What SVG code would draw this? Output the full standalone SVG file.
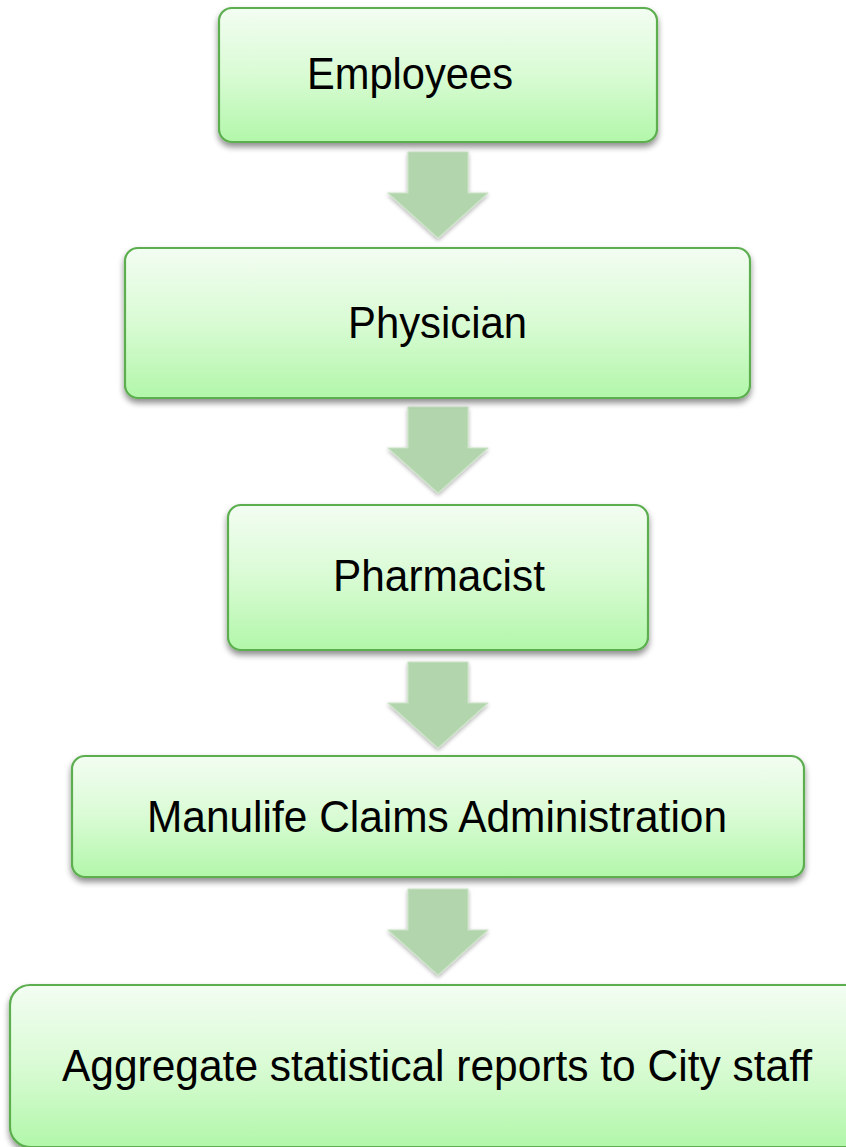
<svg xmlns="http://www.w3.org/2000/svg" width="846" height="1147" viewBox="0 0 846 1147">
  <defs>
    <linearGradient id="boxGrad" x1="0" y1="0" x2="0" y2="1">
      <stop offset="0" stop-color="#f3fdf2"/>
      <stop offset="0.5" stop-color="#d9fbd4"/>
      <stop offset="1" stop-color="#b2f7aa"/>
    </linearGradient>
    <filter id="shadow" x="-10%" y="-10%" width="120%" height="130%">
      <feGaussianBlur in="SourceAlpha" stdDeviation="3"/>
      <feOffset dx="0" dy="4" result="b"/>
      <feComponentTransfer><feFuncA type="linear" slope="0.45"/></feComponentTransfer>
      <feMerge><feMergeNode/><feMergeNode in="SourceGraphic"/></feMerge>
    </filter>
    <filter id="arrowShadow" x="-20%" y="-20%" width="140%" height="140%">
      <feGaussianBlur in="SourceAlpha" stdDeviation="2"/>
      <feOffset dx="0" dy="2"/>
      <feComponentTransfer><feFuncA type="linear" slope="0.3"/></feComponentTransfer>
      <feMerge><feMergeNode/><feMergeNode in="SourceGraphic"/></feMerge>
    </filter>
    <path id="arrowShape" d="M -30 0 L 30 0 L 30 41 L 50 41 L 0 86 L -50 41 L -30 41 Z"/>
  </defs>
  <style>
    .box { fill: url(#boxGrad); stroke: #5bae4f; stroke-width: 2.2; filter: url(#shadow); }
    .lbl { font-family: "Liberation Sans", Arial, sans-serif; font-size: 44px; fill: #000; text-anchor: middle; }
    .arrow { fill: #b3d5ae; stroke: #c9e3c4; stroke-width: 1.2; stroke-linejoin: round; filter: url(#arrowShadow); }
  </style>

  <g id="connectors">
    <use href="#arrowShape" class="arrow" transform="translate(438,152)"/>
    <use href="#arrowShape" class="arrow" transform="translate(438,407)"/>
    <use href="#arrowShape" class="arrow" transform="translate(438,662)"/>
    <use href="#arrowShape" class="arrow" transform="translate(438,889)"/>
  </g>

  <g id="node-employees">
    <rect class="box" x="219" y="8" width="438" height="134" rx="13"/>
    <text class="lbl" x="410" y="89" textLength="206" lengthAdjust="spacingAndGlyphs">Employees</text>
  </g>

  <g id="node-physician">
    <rect class="box" x="125" y="248" width="625" height="150" rx="13"/>
    <text class="lbl" x="437.5" y="338" textLength="179" lengthAdjust="spacingAndGlyphs">Physician</text>
  </g>

  <g id="node-pharmacist">
    <rect class="box" x="228" y="505" width="420" height="145" rx="13"/>
    <text class="lbl" x="439" y="591" textLength="212" lengthAdjust="spacingAndGlyphs">Pharmacist</text>
  </g>

  <g id="node-manulife">
    <rect class="box" x="72" y="756" width="732" height="121" rx="13"/>
    <text class="lbl" x="437" y="832" textLength="580" lengthAdjust="spacingAndGlyphs">Manulife Claims Administration</text>
  </g>

  <g id="node-aggregate">
    <rect class="box" x="10" y="985" width="860" height="162" rx="20"/>
    <text class="lbl" x="437" y="1081" textLength="750" lengthAdjust="spacingAndGlyphs">Aggregate statistical reports to City staff</text>
  </g>
</svg>
